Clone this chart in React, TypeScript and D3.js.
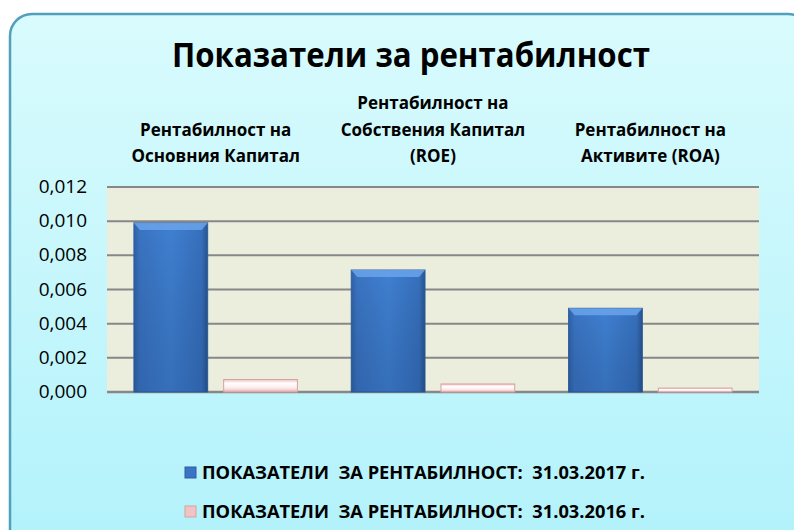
import React from "react";
import * as d3 from "d3";

const title = "Показатели за рентабилност";
const categories = [
  ["Рентабилност на", "Основния Капитал"],
  ["Рентабилност на", "Собствения Капитал", "(ROE)"],
  ["Рентабилност на", "Активите (ROA)"],
];
const seriesNames = [
  "ПОКАЗАТЕЛИ  ЗА РЕНТАБИЛНОСТ:  31.03.2017 г.",
  "ПОКАЗАТЕЛИ  ЗА РЕНТАБИЛНОСТ:  31.03.2016 г.",
];
const values2017 = [0.0099, 0.00714, 0.0049];
const values2016 = [0.00073, 0.00047, 0.00023];
const yTicks = [0, 0.002, 0.004, 0.006, 0.008, 0.01, 0.012];

const W = 794;
const H = 530;
const plot = { left: 107, right: 759, top: 187, bottom: 392 };
const NARROW = "'Liberation Sans Narrow', 'Open Sans', sans-serif";
const FONT = "'Open Sans', 'Noto Sans', sans-serif";

export default function App() {
  const catIdx = categories.map((_, i) => String(i));
  const x0 = d3.scaleBand<string>().domain(catIdx).range([plot.left, plot.right]).padding(0);
  const x1 = d3
    .scaleBand<string>()
    .domain(["a", "b"])
    .range([0, x0.bandwidth()])
    .paddingInner(0.178)
    .paddingOuter(0.3);
  const y = d3.scaleLinear().domain([0, 0.012]).range([plot.bottom, plot.top]);
  const fmt = (v: number) => d3.format(".3f")(v).replace(".", ",");
  const series = [
    { key: "a", values: values2017, fill: "url(#blueGrad)", stroke: "#2f5f9e" },
    { key: "b", values: values2016, fill: "url(#pinkGrad)", stroke: "#d9a0a0" },
  ];
  const lineH = 26.5;

  return (
    <svg
      width={W}
      height={H}
      style={{ position: "absolute", left: 0, top: 0, background: "#ffffff" }}
    >
      <defs>
        <linearGradient id="bgGrad" x1="0" y1="0" x2="0" y2="1">
          <stop offset="0" stopColor="#d9fbfd" />
          <stop offset="1" stopColor="#b2f2fb" />
        </linearGradient>
        <linearGradient id="blueGrad" x1="0" y1="0" x2="1" y2="0">
          <stop offset="0" stopColor="#2f62a8" />
          <stop offset="0.08" stopColor="#3a74c2" />
          <stop offset="0.5" stopColor="#3f80d2" />
          <stop offset="0.92" stopColor="#3670bd" />
          <stop offset="1" stopColor="#27548f" />
        </linearGradient>
        <linearGradient id="blueV" x1="0" y1="0" x2="0" y2="1">
          <stop offset="0" stopColor="#000" stopOpacity="0" />
          <stop offset="1" stopColor="#0b2550" stopOpacity="0.18" />
        </linearGradient>
        <linearGradient id="pinkGrad" x1="0" y1="0" x2="0" y2="1">
          <stop offset="0" stopColor="#f2c0c0" />
          <stop offset="0.3" stopColor="#ffffff" />
          <stop offset="0.7" stopColor="#fbeaea" />
          <stop offset="1" stopColor="#e6a9a9" />
        </linearGradient>
      </defs>

      <rect
        x={10}
        y={14}
        width={800}
        height={540}
        rx={22}
        fill="url(#bgGrad)"
        stroke="#4f9fbd"
        strokeWidth={2.5}
      />

      <text
        x={411}
        y={67}
        textAnchor="middle"
        fontFamily={NARROW}
        fontWeight="bold"
        fontSize={34}
        fill="#000"
        textLength={478}
        lengthAdjust="spacingAndGlyphs"
      >
        {title}
      </text>

      {categories.map((lines, i) => {
        const cx = (x0(String(i)) as number) + x0.bandwidth() / 2;
        const lastY = 162;
        return (
          <g key={i}>
            {lines.map((ln, j) => (
              <text
                key={j}
                x={cx}
                y={lastY - (lines.length - 1 - j) * lineH}
                textAnchor="middle"
                fontFamily={NARROW}
                fontWeight="bold"
                fontSize={17}
                fill="#000"
                style={{ whiteSpace: "pre" }}
              >
                {ln}
              </text>
            ))}
          </g>
        );
      })}

      <rect
        x={plot.left}
        y={plot.top}
        width={plot.right - plot.left}
        height={plot.bottom - plot.top}
        fill="#ebeedd"
      />
      {yTicks.map((t) => (
        <g key={t}>
          <line
            x1={plot.left}
            x2={plot.right}
            y1={y(t)}
            y2={y(t)}
            stroke="#878787"
            strokeWidth={t === 0 ? 2.5 : 2}
          />
          <text
            x={87}
            y={y(t) + 6}
            textAnchor="end"
            fontFamily={NARROW}
            fontSize={19}
            fill="#000"
          >
            {fmt(t)}
          </text>
        </g>
      ))}

      {categories.map((_, i) =>
        series.map((s) => {
          const bx = (x0(String(i)) as number) + (x1(s.key) as number);
          const bw = x1.bandwidth();
          const by = y(s.values[i]);
          const bh = plot.bottom - by;
          return (
            <g key={i + s.key}>
              <rect x={bx} y={by} width={bw} height={bh} fill={s.fill} stroke={s.stroke} strokeWidth={1} />
              {s.key === "a" && (
                <>
                  <rect x={bx} y={by} width={bw} height={bh} fill="url(#blueV)" />
                  <path
                    d={`M${bx},${by} L${bx + bw},${by} L${bx + bw - 6},${by + 7} L${bx + 6},${by + 7} Z`}
                    fill="#6aa3ea"
                    opacity={0.85}
                  />
                </>
              )}
            </g>
          );
        })
      )}

      {seriesNames.map((name, k) => {
        const ly = 473 + k * 39;
        return (
          <g key={k}>
            <rect
              x={185}
              y={ly - 6}
              width={11}
              height={11}
              fill={k === 0 ? "#3a74c2" : "#f0c4c4"}
              stroke={k === 0 ? "#2f5f9e" : "#d9a0a0"}
            />
            <text
              x={202}
              y={ly + 6}
              fontFamily={NARROW}
              fontWeight="bold"
              fontSize={17}
              fill="#000"
              textLength={443}
              lengthAdjust="spacingAndGlyphs"
              style={{ whiteSpace: "pre" }}
            >
              {name}
            </text>
          </g>
        );
      })}
    </svg>
  );
}
